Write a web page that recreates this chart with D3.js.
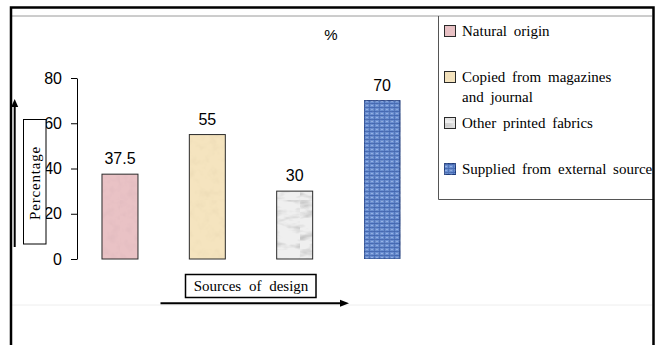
<!DOCTYPE html>
<html>
<head>
<meta charset="utf-8">
<script src="https://cdn.jsdelivr.net/npm/d3@7"></script>
<style>
  html, body { margin: 0; padding: 0; background: #fff; }
  svg { display: block; }
</style>
</head>
<body>
<svg id="chart" width="656" height="345"></svg>
<script>
// Sources of design used, in percent
const categories = ["Natural origin", "Copied from magazines and journal", "Other printed fabrics", "Supplied from external source"];
const values = [37.5, 55, 30, 70];
const legendLines = [["Natural origin"], ["Copied from magazines", "and journal"], ["Other printed fabrics"], ["Supplied from external source"]];
const yTicks = [0, 20, 40, 60, 80];
const fills = ["url(#tex-pink)", "url(#tex-tan)", "url(#tex-gray)", "url(#tex-blue)"];
const strokes = ["#2a2a2a", "#2a2a2a", "#2a2a2a", "#1e3a7a"];
const grains = [null, null, null, "url(#grain-blue)"];

const svg = d3.select("#chart");
const defs = svg.append("defs");

// Grainy paper-like textures built from turbulence noise
function noiseFilter(id, freq, seed, strength, offset, color) {
  const f = defs.append("filter").attr("id", id)
    .attr("x", 0).attr("y", 0).attr("width", 1).attr("height", 1)
    .attr("filterUnits", "objectBoundingBox");
  f.append("feTurbulence").attr("type", "fractalNoise")
    .attr("baseFrequency", freq).attr("numOctaves", 3).attr("seed", seed).attr("result", "n");
  f.append("feColorMatrix").attr("in", "n").attr("type", "matrix")
    .attr("values", `0 0 0 0 ${color[0]}  0 0 0 0 ${color[1]}  0 0 0 0 ${color[2]}  ${strength} 0 0 0 ${offset}`)
    .attr("result", "shade");
  f.append("feComposite").attr("in", "shade").attr("in2", "SourceGraphic").attr("operator", "atop");
}
noiseFilter("grain-pink", "0.12", 4, 0.5, -0.2, [0.6, 0.4, 0.43]);
noiseFilter("grain-tan", "0.1", 7, 0.6, -0.27, [0.7, 0.58, 0.35]);
noiseFilter("grain-gray", "0.05 0.12", 11, 1.6, -0.72, [0.35, 0.35, 0.35]);
noiseFilter("grain-blue", "0.35", 2, 1.0, -0.42, [0.15, 0.25, 0.5]);

function texPattern(id, base, filterId) {
  const p = defs.append("pattern").attr("id", id)
    .attr("patternUnits", "userSpaceOnUse").attr("width", 60).attr("height", 200);
  p.append("rect").attr("width", 60).attr("height", 200).attr("fill", base)
    .attr("filter", `url(#${filterId})`);
}
texPattern("tex-pink", "#e9c2c5", "grain-pink");
texPattern("tex-tan", "#f5e4bf", "grain-tan");
texPattern("tex-gray", "#efefef", "grain-gray");

// Woven blue cloth
const weave = defs.append("pattern").attr("id", "tex-blue")
  .attr("patternUnits", "userSpaceOnUse").attr("width", 5).attr("height", 4);
weave.append("rect").attr("width", 5).attr("height", 4).attr("fill", "#6a8fd2");
weave.append("rect").attr("y", 3).attr("width", 5).attr("height", 1).attr("fill", "#4468b2");
weave.append("rect").attr("x", 4).attr("width", 1).attr("height", 3).attr("fill", "#5074bb");
weave.append("rect").attr("x", 1).attr("y", 1).attr("width", 2).attr("height", 1).attr("fill", "#96b2e6");

// Frame
svg.append("line").attr("x1", 12).attr("x2", 652).attr("y1", 16).attr("y2", 16).attr("stroke", "#9a9a9a").attr("stroke-width", 1);
svg.append("line").attr("x1", 12).attr("x2", 652).attr("y1", 305).attr("y2", 305).attr("stroke", "#eeeeee").attr("stroke-width", 1);

// Scales
const x = d3.scaleBand().domain(categories).range([77, 425]).paddingInner(0.588).paddingOuter(0.286);
const y = d3.scaleLinear().domain([0, 80]).range([259, 78]);

// Y axis
const yAxis = svg.append("g").attr("transform", "translate(77,0)")
  .call(d3.axisLeft(y).tickValues(yTicks).tickSize(6).tickPadding(9).tickSizeOuter(0));
yAxis.select(".domain").attr("stroke", "#000");
yAxis.selectAll(".tick line").attr("stroke", "#000");
yAxis.selectAll(".tick text").attr("font-family", "Liberation Sans, Arial, sans-serif")
  .attr("font-size", 16).attr("fill", "#000");

// Bars
svg.append("g").selectAll("rect").data(values).join("rect")
  .attr("x", (d, i) => x(categories[i]))
  .attr("y", d => y(d))
  .attr("width", x.bandwidth())
  .attr("height", d => y(0) - y(d))
  .attr("fill", (d, i) => fills[i])
  .attr("filter", (d, i) => grains[i])
  .attr("stroke", (d, i) => strokes[i])
  .attr("stroke-width", 1);

// Value labels
svg.append("g").selectAll("text").data(values).join("text")
  .attr("x", (d, i) => x(categories[i]) + x.bandwidth() / 2)
  .attr("y", d => y(d) - 10)
  .attr("text-anchor", "middle")
  .attr("font-family", "Liberation Sans, Arial, sans-serif")
  .attr("font-size", 16)
  .text(d => d);

// Title
svg.append("text").attr("x", 331).attr("y", 40).attr("text-anchor", "middle")
  .attr("font-family", "Liberation Sans, Arial, sans-serif").attr("font-size", 15).text("%");

// Axis title boxes and arrows
const serif = "Liberation Serif, Times New Roman, serif";
svg.append("rect").attr("x", 23.5).attr("y", 119.5).attr("width", 22.5).attr("height", 124.5)
  .attr("fill", "#fff").attr("stroke", "#000").attr("stroke-width", 1);
svg.append("text").attr("transform", "translate(39.5,183) rotate(-90)")
  .attr("text-anchor", "middle").attr("font-family", serif).attr("font-size", 15)
  .attr("letter-spacing", 0.8).text("Percentage");

svg.append("rect").attr("x", 185.5).attr("y", 274.5).attr("width", 130.5).attr("height", 23)
  .attr("fill", "#fff").attr("stroke", "#000").attr("stroke-width", 1.5);
svg.append("text").attr("x", 251).attr("y", 291).attr("text-anchor", "middle")
  .attr("font-family", serif).attr("font-size", 15).attr("word-spacing", 4).text("Sources of design");

svg.append("line").attr("x1", 14.7).attr("x2", 14.7).attr("y1", 247).attr("y2", 106)
  .attr("stroke", "#000").attr("stroke-width", 2);
svg.append("path").attr("d", "M14.7,99 L11.2,107 L18.2,107 Z").attr("fill", "#000");
svg.append("line").attr("x1", 160.5).attr("x2", 341).attr("y1", 303.3).attr("y2", 303.3)
  .attr("stroke", "#000").attr("stroke-width", 2);
svg.append("path").attr("d", "M349,303.3 L340,299.8 L340,306.8 Z").attr("fill", "#000");

// Legend
const legend = svg.append("g");
legend.append("path").attr("d", "M438.5,16 L438.5,199.5 L653,199.5")
  .attr("fill", "none").attr("stroke", "#555").attr("stroke-width", 1);
const items = legend.selectAll("g.item").data(legendLines).join("g").attr("class", "item")
  .attr("transform", (d, i) => `translate(444,${31 + i * 46})`);
items.append("rect").attr("x", 0.5).attr("y", -5.5).attr("width", 11).attr("height", 11)
  .attr("fill", (d, i) => fills[i]).attr("filter", (d, i) => grains[i])
  .attr("stroke", (d, i) => strokes[i]).attr("stroke-width", 1);
items.each(function(lines) {
  const t = d3.select(this).append("text").attr("font-family", serif).attr("font-size", 15)
    .attr("word-spacing", 3);
  lines.forEach((ln, j) => t.append("tspan").attr("x", 18).attr("y", 5 + j * 20).text(ln));
});

// Outer border drawn last so it sits over clipped text
svg.append("path").attr("d", "M11,345 L11,7.5 L653.5,7.5 L653.5,345")
  .attr("fill", "none").attr("stroke", "#000").attr("stroke-width", 2.5);
</script>
</body>
</html>
